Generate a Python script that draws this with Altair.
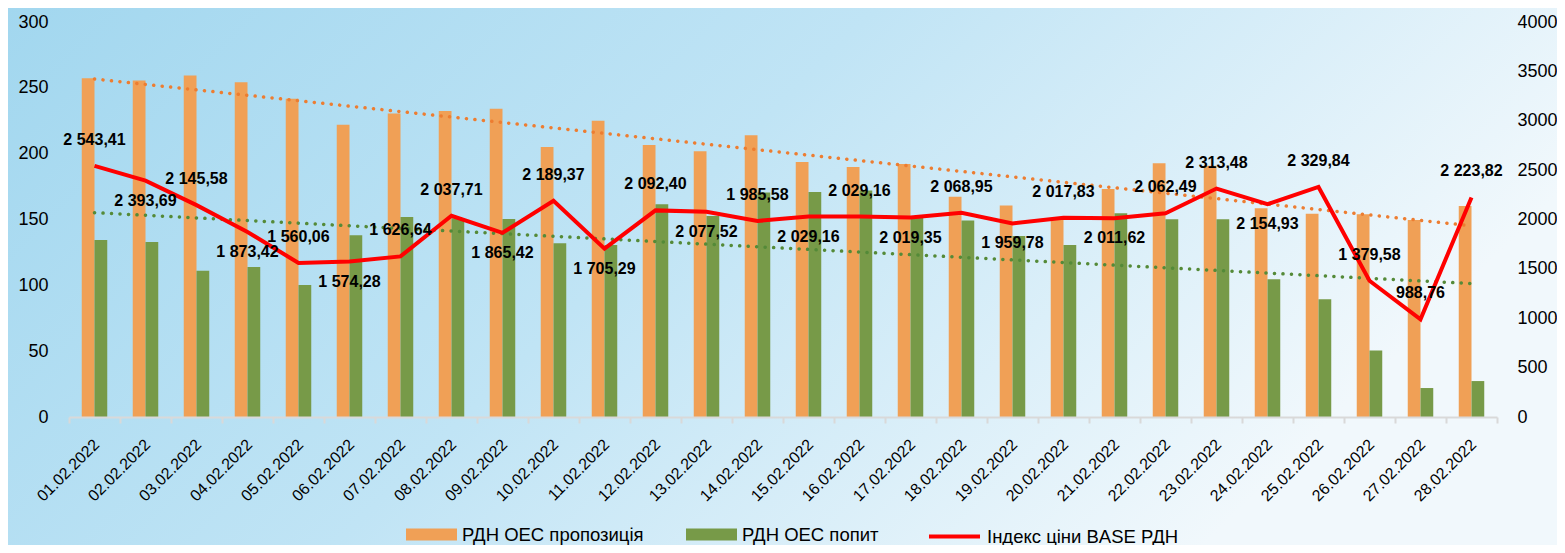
import altair as alt
import pandas as pd

FONT = "Liberation Sans"

dates = ["01.02.2022", "02.02.2022", "03.02.2022", "04.02.2022", "05.02.2022", "06.02.2022", "07.02.2022",
         "08.02.2022", "09.02.2022", "10.02.2022", "11.02.2022", "12.02.2022", "13.02.2022", "14.02.2022",
         "15.02.2022", "16.02.2022", "17.02.2022", "18.02.2022", "19.02.2022", "20.02.2022", "21.02.2022",
         "22.02.2022", "23.02.2022", "24.02.2022", "25.02.2022", "26.02.2022", "27.02.2022", "28.02.2022"]

supply = [257.3, 255.5, 259.3, 254.2, 241.8, 222.0, 230.6, 232.4, 234.2, 205.1, 225.0, 206.6, 201.8, 213.9,
          193.7, 189.9, 192.2, 167.3, 160.7, 150.0, 173.2, 192.7, 190.9, 158.5, 154.4, 153.9, 149.6, 160.3]

demand = [134.4, 132.9, 111.1, 113.9, 100.3, 138.0, 151.9, 150.9, 150.4, 131.9, 130.6, 161.5, 152.7, 170.6,
          170.9, 172.0, 152.0, 149.2, 137.5, 130.6, 154.7, 150.1, 150.1, 104.6, 89.4, 50.6, 22.0, 27.3]

price = [2543.41, 2393.69, 2145.58, 1873.42, 1560.06, 1574.28, 1626.64, 2037.71, 1865.42, 2189.37,
         1705.29, 2092.40, 2077.52, 1985.58, 2029.16, 2029.16, 2019.35, 2068.95, 1959.78, 2017.83,
         2011.62, 2062.49, 2313.48, 2154.93, 2329.84, 1379.58, 988.76, 2223.82]

label_side = ["above", "below", "above", "below", "above", "below", "above", "above", "below", "above",
              "below", "above", "below", "above", "below", "above", "below", "above", "below", "above",
              "below", "above", "above", "below", "above", "above", "above", "above"]

S1 = "РДН ОЕС пропозиція"
S2 = "РДН ОЕС попит"
S3 = "Індекс ціни BASE РДН"

left_ticks = [0, 50, 100, 150, 200, 250, 300]
right_ticks = [0, 500, 1000, 1500, 2000, 2500, 3000, 3500, 4000]

C_SUPPLY = "#F0A056"
C_DEMAND = "#779A48"
C_SUPPLY_TREND = "#ED7D31"
C_DEMAND_TREND = "#548A38"
C_PRICE = "#FF0000"

W, H = 1428, 395
PAD = {"left": 61, "top": 14, "right": 60, "bottom": 128}

n = len(dates)
bars_df = pd.DataFrame({
    "date": dates + dates,
    "idx": list(range(n)) + list(range(n)),
    "series": [S1] * n + [S2] * n,
    "value": supply + demand,
})


def fmt(v):
    return f"{v:,.2f}".replace(",", " ").replace(".", ",")


price_df = pd.DataFrame({
    "date": dates,
    "price": price,
    "label": [fmt(v) for v in price],
    "side": label_side,
    "lname": [S3] * n,
})

x_band = alt.X("date:N", sort=dates, title=None,
               scale=alt.Scale(domain=dates, paddingInner=0, paddingOuter=0),
               axis=alt.Axis(labelAngle=-45, tickBand="extent", domainColor="#D9D9D9", domainWidth=2,
                             tickColor="#D9D9D9", tickWidth=2, tickSize=6, labelFontSize=16,
                             labelFont=FONT, labelColor="#000000", labelPadding=13, labelOffset=-4,
                             grid=False, zindex=1))
x_point = alt.X("date:N", sort=dates, title=None, scale=alt.Scale(domain=dates), axis=None)
y_left_axis = alt.Y("value:Q", title=None, scale=alt.Scale(domain=[0, 300], nice=False),
                    axis=alt.Axis(values=left_ticks, format="d", domain=False, ticks=False, grid=False,
                                  labelFontSize=18, labelFont=FONT, labelColor="#000000", labelPadding=21,
                                  zindex=1))
y_left_none = alt.Y("value:Q", title=None, scale=alt.Scale(domain=[0, 300], nice=False), axis=None)
y_right_axis = alt.Y("price:Q", title=None, scale=alt.Scale(domain=[0, 4000], nice=False),
                     axis=alt.Axis(orient="right", values=right_ticks, format="d", domain=False, ticks=False,
                                   grid=False, labelFontSize=18, labelFont=FONT, labelColor="#000000",
                                   labelPadding=20, zindex=1))
y_right_none = alt.Y("price:Q", title=None, scale=alt.Scale(domain=[0, 4000], nice=False), axis=None)

bg = alt.Chart(pd.DataFrame({"k": [0]})).mark_rect(
    clip=False,
    fill=alt.LinearGradient(
        gradient="linear",
        stops=[alt.GradientStop(offset=0, color="#A2D7EF"),
               alt.GradientStop(offset=0.5, color="#C0E4F5"),
               alt.GradientStop(offset=1, color="#F1F8FC")],
        x1=0, y1=0, x2=1, y2=0.35),
).encode(x=alt.value(-PAD["left"]), x2=alt.value(W + PAD["right"]),
         y=alt.value(-PAD["top"]), y2=alt.value(H + PAD["bottom"]))

bars = alt.Chart(bars_df).mark_bar().encode(
    x=x_band,
    xOffset=alt.XOffset("series:N", sort=[S1, S2],
                        scale=alt.Scale(domain=[S1, S2], paddingInner=0, paddingOuter=1)),
    y=y_left_axis,
    fill=alt.Fill("series:N", scale=alt.Scale(domain=[S1, S2], range=[C_SUPPLY, C_DEMAND]),
                  legend=alt.Legend(title=None, orient="none", legendX=337, legendY=487,
                                    direction="horizontal", symbolType="M-1,-0.235H1V0.235H-1Z",
                                    symbolSize=2601, symbolStrokeWidth=0, labelFontSize=18.5,
                                    labelFont=FONT, labelColor="#000000", labelOffset=5,
                                    labelLimit=0, columnPadding=42, padding=0, zindex=1)),
)


def trend(series, color):
    return alt.Chart(bars_df).transform_filter(
        alt.datum.series == series
    ).transform_regression("idx", "value").mark_line(
        strokeDash=[0.1, 8.4], strokeCap="round", strokeWidth=3.5, color=color
    ).encode(
        x=alt.X("idx:Q", scale=alt.Scale(domain=[-0.5, n - 0.5], nice=False, zero=False), axis=None),
        y=y_left_none,
    )


line = alt.Chart(price_df).mark_line(strokeWidth=4).encode(
    x=x_point,
    y=y_right_axis,
    stroke=alt.Stroke("lname:N", scale=alt.Scale(domain=[S3], range=[C_PRICE]),
                      legend=alt.Legend(title=None, orient="none", legendX=858, legendY=487,
                                        direction="horizontal", symbolType="M-1,0H1",
                                        symbolSize=2601, symbolStrokeWidth=4, labelFontSize=18.5,
                                        labelFont=FONT, labelColor="#000000", labelOffset=5,
                                        labelLimit=0, padding=0, zindex=1)),
)


def labels(side, dy):
    return alt.Chart(price_df).transform_filter(alt.datum.side == side).mark_text(
        dy=dy, fontSize=16, fontWeight="bold", font=FONT, color="#000000"
    ).encode(x=x_point, y=y_right_none, text="label:N")


chart = alt.layer(
    bg, bars, trend(S1, C_SUPPLY_TREND), trend(S2, C_DEMAND_TREND), line,
    labels("above", -26), labels("below", 20)
).resolve_scale(
    x="independent", y="independent"
).properties(
    width=W, height=H,
    autosize=alt.AutoSizeParams(type="none"),
    padding=PAD,
    background="#C0E4F5",
).configure_view(stroke=None)

chart.save("out.html", embed_options={"renderer": "svg", "actions": False})
